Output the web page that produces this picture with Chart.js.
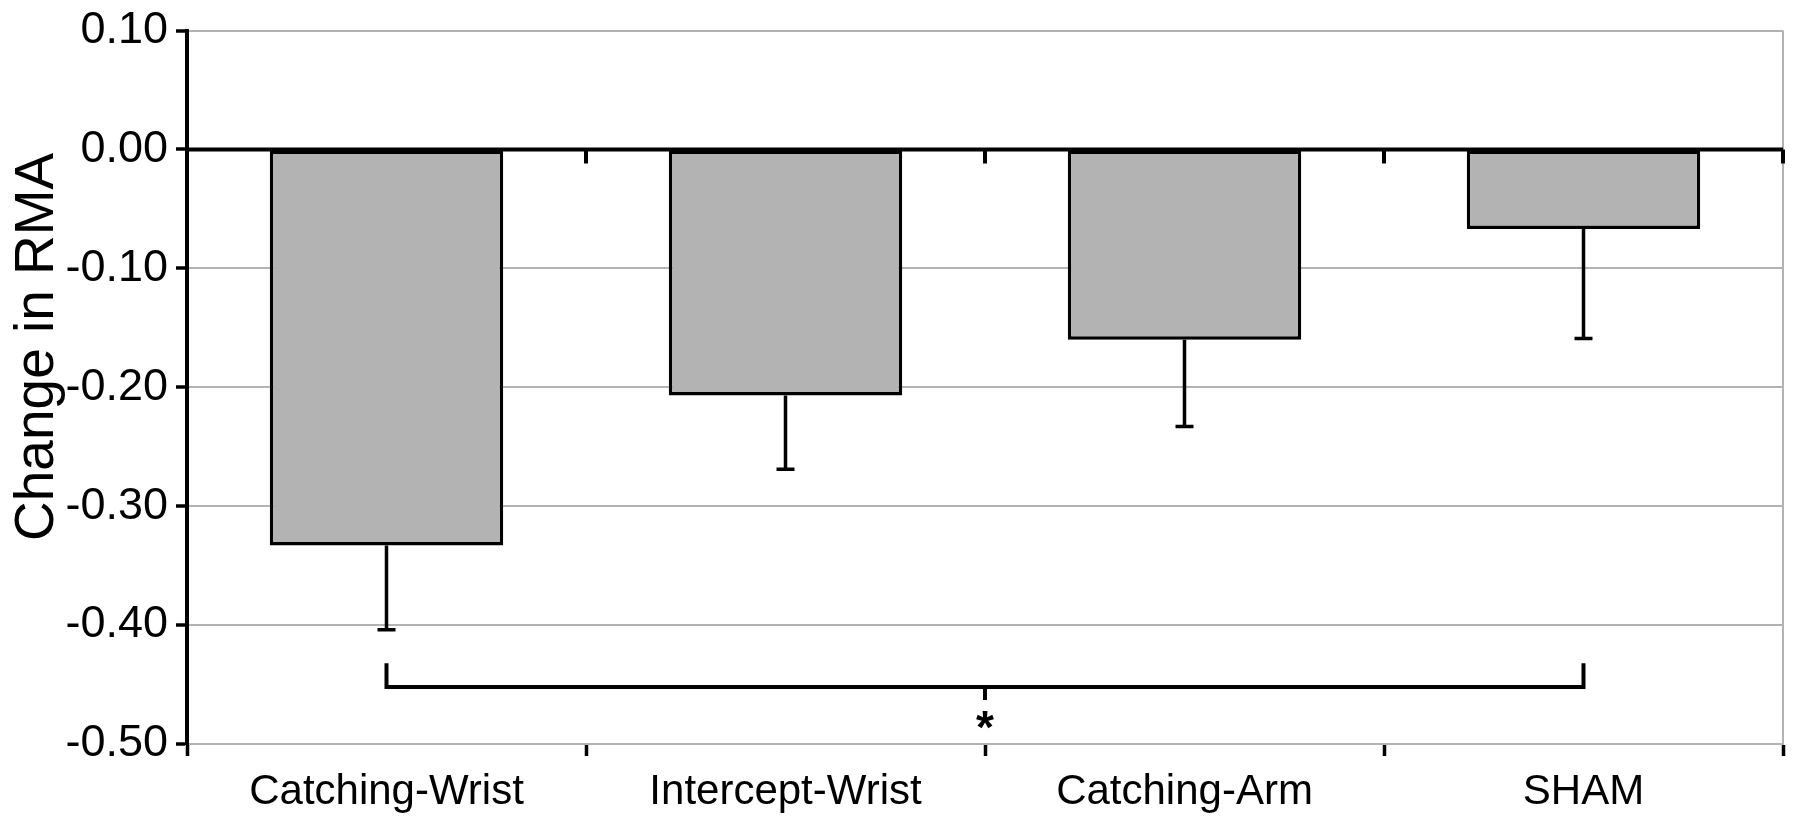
<!DOCTYPE html>
<html>
<head>
<meta charset="utf-8">
<script src="https://cdn.jsdelivr.net/npm/chart.js@4.4.1/dist/chart.umd.min.js"></script>
<style>
  html, body { margin: 0; padding: 0; background: #fff; }
  #wrap { width: 1800px; height: 827px; }
</style>
</head>
<body>
<div id="wrap"><canvas id="myChart"></canvas></div>
<script>
const groups = ["Catching-Wrist", "Intercept-Wrist", "Catching-Arm", "SHAM"];
const rmaChange = [-0.333, -0.207, -0.160, -0.067];
const rmaError = [0.071, 0.062, 0.073, 0.092];
const yTicks = [0.10, 0.00, -0.10, -0.20, -0.30, -0.40, -0.50];
const yTitle = "Change in RMA";
// significance bracket between first and last group
const sigPair = [0, 3];
const sigLevel = -0.452;
const sigMark = "*";

const FONT = '"Liberation Sans", Arial, sans-serif';

// error bars (downward only), zero axis, right frame, bracket, axis title
const extras = {
  id: 'extras',
  beforeDatasetsDraw(chart) {
    const {ctx, chartArea: a} = chart;
    ctx.save();
    ctx.strokeStyle = '#b3b3b3';
    ctx.lineWidth = 2;
    ctx.beginPath();
    ctx.moveTo(a.right, a.top);
    ctx.lineTo(a.right, a.bottom);
    ctx.stroke();
    ctx.restore();
  },
  afterDatasetsDraw(chart) {
    const {ctx, chartArea: a} = chart;
    const x = chart.scales.x, y = chart.scales.y;
    const meta = chart.getDatasetMeta(0);
    ctx.save();
    ctx.strokeStyle = '#000';
    ctx.lineWidth = 4;
    ctx.lineCap = 'butt';

    // zero line with ticks at group boundaries
    const y0 = y.getPixelForValue(0);
    ctx.beginPath();
    ctx.moveTo(a.left, y0);
    ctx.lineTo(a.right, y0);
    const step = a.width / groups.length;
    for (let i = 1; i <= groups.length; i++) {
      ctx.moveTo(a.left + i * step, y0);
      ctx.lineTo(a.left + i * step, y0 + 14);
    }
    ctx.stroke();

    // error bars
    ctx.lineWidth = 3.5;
    meta.data.forEach((bar, i) => {
      const top = y.getPixelForValue(rmaChange[i]);
      const end = y.getPixelForValue(rmaChange[i] - rmaError[i]);
      ctx.beginPath();
      ctx.moveTo(bar.x, top);
      ctx.lineTo(bar.x, end);
      ctx.moveTo(bar.x - 9, end);
      ctx.lineTo(bar.x + 9, end);
      ctx.stroke();
    });

    // bracket
    ctx.lineWidth = 4;
    const xa = x.getPixelForValue(sigPair[0]);
    const xb = x.getPixelForValue(sigPair[1]);
    const yl = y.getPixelForValue(sigLevel);
    const yUp = y.getPixelForValue(sigLevel + 0.02);
    const yDn = y.getPixelForValue(sigLevel - 0.011);
    const xm = (x.left + x.right) / 2;
    ctx.beginPath();
    ctx.moveTo(xa, yUp);
    ctx.lineTo(xa, yl);
    ctx.lineTo(xb, yl);
    ctx.lineTo(xb, yUp);
    ctx.moveTo(xm, yl);
    ctx.lineTo(xm, yDn);
    ctx.stroke();

    ctx.fillStyle = '#000';
    ctx.font = 'bold 46px ' + FONT;
    ctx.textAlign = 'center';
    ctx.textBaseline = 'top';
    ctx.fillText(sigMark, xm, y.getPixelForValue(sigLevel - 0.017));

    // y axis title, sits a bit above the middle of the axis
    ctx.font = '55px ' + FONT;
    ctx.textBaseline = 'middle';
    ctx.translate(38, y.getPixelForValue(-0.166));
    ctx.rotate(-Math.PI / 2);
    ctx.fillText(yTitle, 0, 0);
    ctx.restore();
  }
};

const ctx = document.getElementById('myChart').getContext('2d');
const myChart = new Chart(ctx, {
  type: 'bar',
  data: {
    labels: groups,
    datasets: [{
      label: yTitle,
      data: rmaChange,
      backgroundColor: '#b3b3b3',
      borderColor: '#000',
      borderWidth: 3.5,
      borderSkipped: false,
      barPercentage: 0.585,
      categoryPercentage: 1.0
    }]
  },
  options: {
    responsive: true,
    maintainAspectRatio: false,
    animation: false,
    devicePixelRatio: 1,
    layout: { padding: { top: 25, right: 17, left: 4, bottom: 0 } },
    plugins: {
      legend: { display: false },
      tooltip: { enabled: false }
    },
    scales: {
      x: {
        grid: {
          offset: true,
          drawOnChartArea: false,
          drawTicks: true,
          tickLength: 12,
          tickWidth: 3.5,
          tickColor: '#000'
        },
        border: { color: '#b3b3b3', width: 2 },
        ticks: {
          color: '#000',
          padding: 11,
          font: { family: FONT, size: 42 }
        },
        afterFit(scale) { scale.height = 83; }
      },
      y: {
        min: -0.5,
        max: 0.1,
        afterBuildTicks(scale) { scale.ticks = yTicks.map(v => ({ value: v })); },
        grid: {
          color: '#b3b3b3',
          lineWidth: 2,
          tickLength: 11,
          tickWidth: 3.5,
          tickColor: '#000'
        },
        border: { color: '#000', width: 4 },
        ticks: {
          color: '#000',
          padding: 8,
          font: { family: FONT, size: 45, lineHeight: 1 },
          callback: v => v.toFixed(2)
        },
        afterFit(scale) { scale.width = 183; }
      }
    }
  },
  plugins: [extras]
});
</script>
</body>
</html>
